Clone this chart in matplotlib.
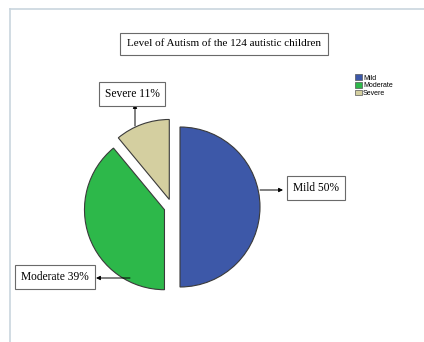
import matplotlib.pyplot as plt
from matplotlib.lines import Line2D

# data
levels = ['Mild', 'Moderate', 'Severe']
percents = [50, 39, 11]
colors = ['#3d58a8', '#2db84a', '#d4cfa0']
title = 'Level of Autism of the 124 autistic children'

W, H = 424, 342
fig = plt.figure(figsize=(W / 100, H / 100), dpi=100)
ax = fig.add_axes([0, 0, 1, 1])
ax.set_xlim(0, W)
ax.set_ylim(0, H)
ax.axis('off')

# light page frame
fig.add_artist(Line2D([9.5 / W, 9.5 / W], [0, 1 - 8.5 / H], color='#c9d5de', lw=1.2))
fig.add_artist(Line2D([9.5 / W, 1], [1 - 8.5 / H, 1 - 8.5 / H], color='#c9d5de', lw=1.2))

# pie, all slices pulled out a little (explode is in data units here)
cx, cy, r = 172, H - 207, 80
wedges, _ = ax.pie(percents, colors=colors, startangle=90, counterclock=False,
                   explode=[0.1 * r] * 3, center=(cx, cy), radius=r,
                   wedgeprops=dict(edgecolor='#3a3a3a', linewidth=0.8))
ax.set_xlim(0, W)
ax.set_ylim(0, H)
ax.set_aspect('equal')

serif = 'Liberation Serif'
box = dict(boxstyle='square,pad=0.5', fc='white', ec='#6a6a6a', lw=0.8)

ax.text(224, H - 44, title, ha='center', va='center', family=serif, fontsize=8,
        bbox=dict(boxstyle='square,pad=0.6', fc='white', ec='#6a6a6a', lw=0.8))

# callouts: (label text, arrow start, box center)
callouts = [
    ('%s %d%%' % (levels[0], percents[0]), (260, H - 190), (316, H - 188)),
    ('%s %d%%' % (levels[1], percents[1]), (130, H - 278), (55, H - 277)),
    ('%s %d%%' % (levels[2], percents[2]), (135, H - 126), (132, H - 94)),
]
ends = [(283, H - 190), (96, H - 278), (135, H - 104)]
for (txt, start, pos), end in zip(callouts, ends):
    ax.annotate('', xy=end, xytext=start,
                arrowprops=dict(arrowstyle='-|>', color='black', lw=0.7,
                                mutation_scale=6, shrinkA=0, shrinkB=0))
    ax.text(pos[0], pos[1], txt, ha='center', va='center', family=serif,
            fontsize=8.3, bbox=box)

# legend
handles = [plt.Rectangle((0, 0), 1, 1, fc=c, ec='#555555', lw=0.5) for c in colors]
leg = ax.legend(handles, levels, loc='upper left', bbox_to_anchor=(352 / W, 1 - 71 / H),
                frameon=False, fontsize=5, handlelength=0.9, handleheight=0.9,
                handletextpad=0.2, labelspacing=0.05, borderpad=0)
for t in leg.get_texts():
    t.set_family('Liberation Sans')

fig.savefig('out.png', dpi=100, facecolor='white')
